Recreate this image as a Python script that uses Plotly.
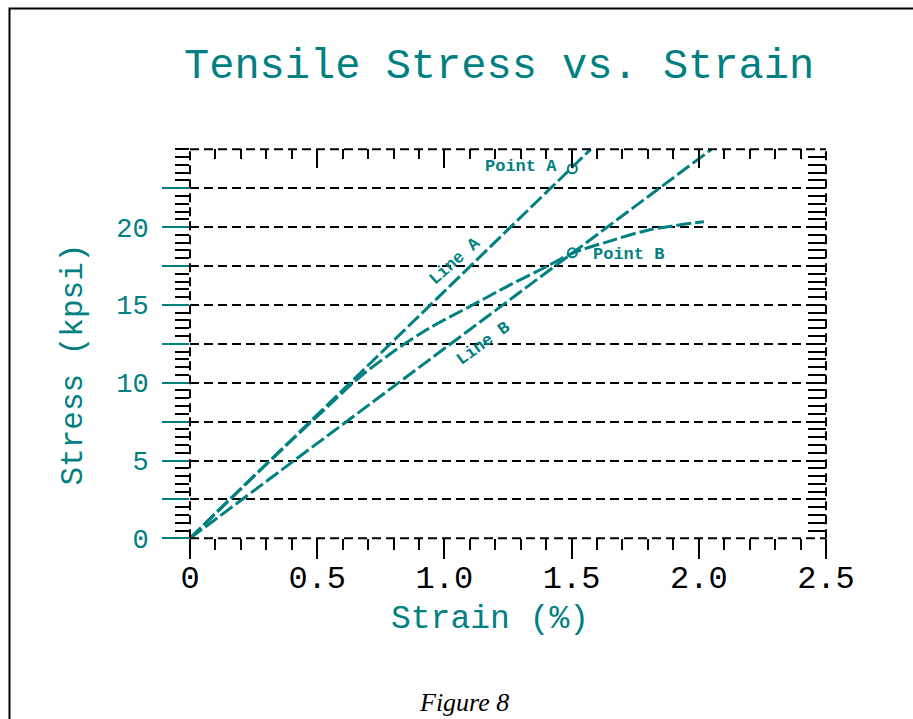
import plotly.graph_objects as go

TEAL = "#008080"

# ---- data ----
curve_strain = [0.0, 0.2, 0.4, 0.55, 0.67, 0.8, 0.94, 1.1, 1.26, 1.4, 1.5, 1.65, 1.8, 2.02]
curve_stress = [0.0, 3.2, 6.3, 8.6, 10.4, 12.0, 13.5, 14.9, 16.3, 17.45, 18.3, 19.1, 19.8, 20.35]

lineA_strain = [0.0, 1.575]
lineA_stress = [0.0, 25.0]

lineB_strain = [0.0, 2.05]
lineB_stress = [0.0, 25.0]

pointA = (1.503, 23.75)
pointB = (1.503, 18.35)

x_tickvals = [0, 0.5, 1.0, 1.5, 2.0, 2.5]
x_ticktext = ["0", "0.5", "1.0", "1.5", "2.0", "2.5"]
y_tickvals = [0, 2.5, 5, 7.5, 10, 12.5, 15, 17.5, 20, 22.5]
y_ticktext = ["0", "", "5", "", "10", "", "15", "", "20", ""]

MONO = "Liberation Mono"
W, H = 913, 719
XD = [190 / W, 826 / W]
YD = [1 - 538.3 / H, 1 - 149.3 / H]
DASH = "15px,4px"

fig = go.Figure()
fig.add_trace(go.Scatter(x=lineA_strain, y=lineA_stress, mode="lines",
                         line=dict(color=TEAL, width=3, dash=DASH), hoverinfo="skip"))
fig.add_trace(go.Scatter(x=lineB_strain, y=lineB_stress, mode="lines",
                         line=dict(color=TEAL, width=3, dash=DASH), hoverinfo="skip"))
fig.add_trace(go.Scatter(x=curve_strain, y=curve_stress, mode="lines",
                         line=dict(color=TEAL, width=3, dash=DASH, shape="spline", smoothing=0.9),
                         hoverinfo="skip"))
fig.add_trace(go.Scatter(x=[pointA[0], pointB[0]], y=[pointA[1], pointB[1]], mode="markers",
                         marker=dict(symbol="circle-open", size=9, color=TEAL, line=dict(width=2)),
                         hoverinfo="skip"))
# invisible trace to activate the top/right mirror axes
fig.add_trace(go.Scatter(x=curve_strain, y=curve_stress, xaxis="x2", yaxis="y2", mode="lines",
                         line=dict(width=0), opacity=0, hoverinfo="skip"))

grid_dash = "9px,5px"
fig.update_layout(
    template="none",
    width=W, height=H, showlegend=False, autosize=False,
    margin=dict(l=0, r=0, t=0, b=0, pad=0),
    paper_bgcolor="white", plot_bgcolor="white",
    xaxis=dict(domain=XD, range=[0, 2.5], tickmode="array", tickvals=x_tickvals, ticktext=x_ticktext,
               ticks="outside", ticklen=20, tickwidth=2, tickcolor="black", automargin=False,
               minor=dict(tickmode="linear", tick0=0, dtick=0.1, ticks="outside", ticklen=11,
                          tickwidth=2, tickcolor="black", showgrid=False),
               showgrid=False, zeroline=False, showline=False, ticklabelstandoff=-10,
               tickfont=dict(family=MONO, size=32, color="black")),
    xaxis2=dict(domain=XD, range=[0, 2.5], overlaying="x", side="top", anchor="y", automargin=False,
                tickmode="linear", tick0=0, dtick=0.5, ticks="inside", ticklen=19, tickwidth=2,
                tickcolor="black", showticklabels=False,
                minor=dict(tickmode="linear", tick0=0, dtick=0.1, ticks="inside", ticklen=10,
                           tickwidth=2, tickcolor="black", showgrid=False),
                showgrid=False, zeroline=False, showline=False),
    yaxis=dict(domain=YD, range=[0, 25], tickmode="array", tickvals=y_tickvals, ticktext=y_ticktext,
               ticks="outside", ticklen=27, tickwidth=2, tickcolor=TEAL, automargin=False,
               minor=dict(tickmode="linear", tick0=0, dtick=0.5, ticks="outside", ticklen=14,
                          tickwidth=2, tickcolor="black", showgrid=False),
               showgrid=True, gridcolor="black", gridwidth=2, griddash=grid_dash,
               zeroline=False, showline=False, ticklabelstandoff=8,
               tickfont=dict(family=MONO, size=27, color=TEAL)),
    yaxis2=dict(domain=YD, range=[0, 25], overlaying="y", side="right", anchor="x", automargin=False,
                tickmode="linear", tick0=0, dtick=0.5, ticks="inside", ticklen=18, tickwidth=2,
                tickcolor="black", showticklabels=False, showgrid=False, zeroline=False, showline=False),
)

# dashed frame around the plotting area
for (x0, y0, x1, y1) in [(0, 0, 1, 0), (0, 1, 1, 1), (0, 0, 0, 1), (1, 0, 1, 1)]:
    fig.add_shape(type="line", xref="x domain", yref="y domain", x0=x0, y0=y0, x1=x1, y1=y1,
                  line=dict(color="black", width=2, dash=grid_dash))

# page border (left and top edges visible)
fig.add_shape(type="rect", xref="paper", yref="paper", x0=9.5 / W, y0=-0.2, x1=1.2, y1=1 - 8.5 / H,
              line=dict(color="black", width=2), fillcolor="rgba(0,0,0,0)")

ann_font = dict(family=MONO, size=17, color=TEAL)
fig.add_annotation(x=pointA[0], y=pointA[1], xref="x", yref="y", text="<b>Point A</b>", showarrow=False,
                   xanchor="right", yanchor="middle", xshift=-13, yshift=2, font=ann_font)
fig.add_annotation(x=pointB[0], y=pointB[1], xref="x", yref="y", text="<b>Point B</b>", showarrow=False,
                   xanchor="left", yanchor="middle", xshift=19, yshift=-2, font=ann_font)
fig.add_annotation(x=1.04, y=17.8, xref="x", yref="y", text="<b>Line A</b>", showarrow=False,
                   xanchor="center", yanchor="middle", textangle=-42, font=ann_font)
fig.add_annotation(x=1.155, y=12.5, xref="x", yref="y", text="<b>Line B</b>", showarrow=False,
                   xanchor="center", yanchor="middle", textangle=-36, font=ann_font)

# titles
def paper_text(px, py, text, font, angle=0):
    fig.add_annotation(x=px / W, y=1 - py / H, xref="paper", yref="paper", text=text,
                       showarrow=False, xanchor="center", yanchor="middle", textangle=angle, font=font)

paper_text(499, 67, "Tensile Stress vs. Strain", dict(family=MONO, size=42, color=TEAL))
paper_text(490, 619, "Strain (%)", dict(family=MONO, size=33, color=TEAL))
paper_text(73, 364.5, "Stress (kpsi)", dict(family=MONO, size=31, color=TEAL), angle=-90)
paper_text(464, 702, "<i>Figure 8</i>", dict(family="Liberation Serif", size=26, color="black"))

fig.write_html("out.html", config={"displayModeBar": False},
               post_script="document.body.style.margin='0';document.body.style.overflow='hidden';")
